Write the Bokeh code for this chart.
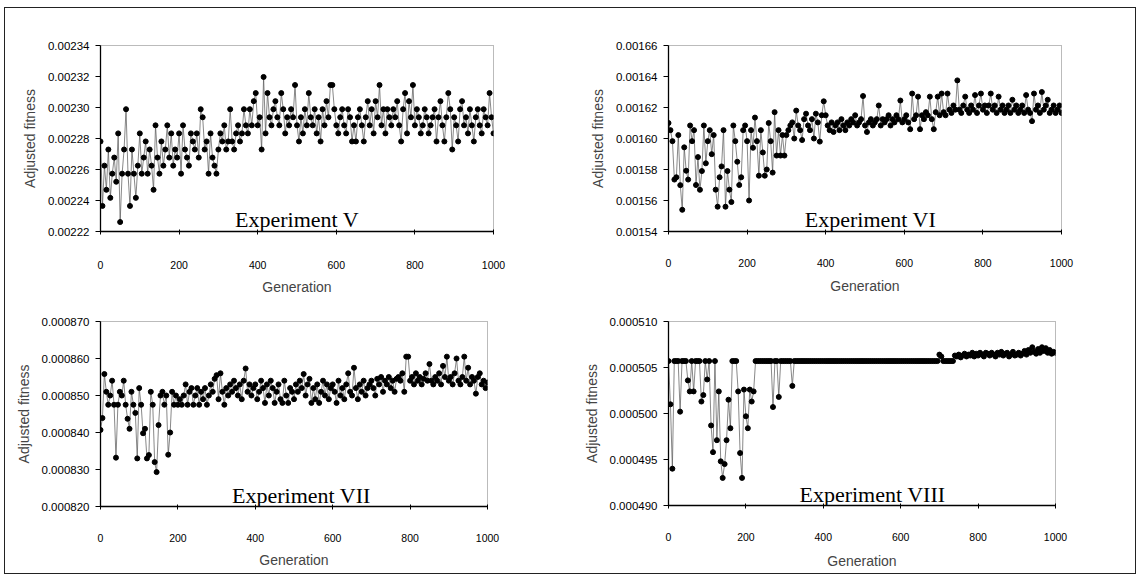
from bokeh.plotting import figure
from bokeh.layouts import column, row
from bokeh.models import FixedTicker, PrintfTickFormatter, Label, Range1d, ColumnDataSource
from bokeh.embed import file_html
from bokeh.resources import INLINE

# ---------------- data ----------------
generation = list(range(0, 1001, 5))

fitness_v = [
    0.0022781, 0.0022365, 0.0022625, 0.0022469, 0.0022729, 0.0022417, 0.0022573, 0.0022677, 0.0022521, 0.0022833,
    0.0022261, 0.0022573, 0.0022729, 0.0022989, 0.0022573, 0.0022365, 0.0022729, 0.0022573, 0.0022417, 0.0022625,
    0.0022833, 0.0022573, 0.0022677, 0.0022781, 0.0022573, 0.0022729, 0.0022625, 0.0022469, 0.0022885, 0.0022677,
    0.0022573, 0.0022781, 0.0022625, 0.0022729, 0.0022885, 0.0022677, 0.0022833, 0.0022625, 0.0022729, 0.0022677,
    0.0022833, 0.0022573, 0.0022885, 0.0022729, 0.0022677, 0.0022625, 0.0022833, 0.0022781, 0.0022729, 0.0022833,
    0.0022677, 0.0022989, 0.0022937, 0.0022729, 0.0022781, 0.0022573, 0.0022833, 0.0022677, 0.0022625, 0.0022573,
    0.0022729, 0.0022833, 0.0022781, 0.0022885, 0.0022729, 0.0022781, 0.0022989, 0.0022781, 0.0022729, 0.0022833,
    0.0022885, 0.0022781, 0.0022833, 0.0022989, 0.0022885, 0.0022833, 0.0022989, 0.0022885, 0.0023041, 0.0023093,
    0.0022885, 0.0022937, 0.0022729, 0.0023197, 0.0022833, 0.0023093, 0.0022937, 0.0022885, 0.0022989, 0.0023041,
    0.0022937, 0.0022885, 0.0023093, 0.0022989, 0.0022833, 0.0022937, 0.0022885, 0.0022989, 0.0022937, 0.0023145,
    0.0022885, 0.0022781, 0.0022937, 0.0022833, 0.0022989, 0.0022885, 0.0023093, 0.0022937, 0.0022885, 0.0022989,
    0.0022833, 0.0022937, 0.0022781, 0.0022989, 0.0022885, 0.0023041, 0.0022937, 0.0023145, 0.0023145, 0.0022989,
    0.0022885, 0.0022833, 0.0022937, 0.0022989, 0.0022885, 0.0022833, 0.0022989, 0.0022937, 0.0022781, 0.0022885,
    0.0022781, 0.0022937, 0.0022989, 0.0022885, 0.0022781, 0.0022937, 0.0023041, 0.0022885, 0.0022989, 0.0022833,
    0.0023041, 0.0022937, 0.0023145, 0.0022885, 0.0022989, 0.0022833, 0.0022989, 0.0022937, 0.0022885, 0.0022989,
    0.0022937, 0.0023041, 0.0022885, 0.0022781, 0.0022989, 0.0023093, 0.0022833, 0.0023041, 0.0022937, 0.0023145,
    0.0022885, 0.0022989, 0.0022937, 0.0022833, 0.0022885, 0.0022989, 0.0022937, 0.0022833, 0.0022885, 0.0022937,
    0.0022989, 0.0022781, 0.0022937, 0.0023041, 0.0022885, 0.0022781, 0.0022937, 0.0023093, 0.0022989, 0.0022729,
    0.0022937, 0.0022885, 0.0022781, 0.0022989, 0.0023041, 0.0022885, 0.0022937, 0.0022833, 0.0022989, 0.0022885,
    0.0022781, 0.0022937, 0.0022989, 0.0022885, 0.0022833, 0.0022989, 0.0022937, 0.0022885, 0.0023093, 0.0022937,
    0.0022833,
]

fitness_vi = [
    0.0016100, 0.0016054, 0.0015983, 0.0015735, 0.0015750, 0.0016022, 0.0015699, 0.0015540, 0.0015943, 0.0015792,
    0.0015735, 0.0016084, 0.0015983, 0.0016054, 0.0015700, 0.0015880, 0.0015669, 0.0015790, 0.0016084, 0.0015840,
    0.0015983, 0.0016054, 0.0015899, 0.0016022, 0.0015670, 0.0015560, 0.0015750, 0.0015820, 0.0016054, 0.0015560,
    0.0015790, 0.0015670, 0.0015590, 0.0016084, 0.0015983, 0.0015850, 0.0015700, 0.0015750, 0.0016054, 0.0016084,
    0.0015983, 0.0015600, 0.0016054, 0.0015940, 0.0016135, 0.0015983, 0.0015760, 0.0016054, 0.0015910, 0.0015760,
    0.0015800, 0.0016100, 0.0015983, 0.0015780, 0.0016170, 0.0015890, 0.0016054, 0.0015890, 0.0016022, 0.0015890,
    0.0016022, 0.0016054, 0.0016084, 0.0016104, 0.0016000, 0.0016180, 0.0016084, 0.0016054, 0.0015990, 0.0016125,
    0.0016160, 0.0016084, 0.0016054, 0.0016125, 0.0016000, 0.0016160, 0.0016104, 0.0015980, 0.0016150, 0.0016240,
    0.0016150, 0.0016084, 0.0016054, 0.0016104, 0.0016042, 0.0016084, 0.0016104, 0.0016054, 0.0016125, 0.0016084,
    0.0016054, 0.0016104, 0.0016084, 0.0016125, 0.0016104, 0.0016150, 0.0016084, 0.0016104, 0.0016125, 0.0016274,
    0.0016084, 0.0016042, 0.0016104, 0.0016125, 0.0016084, 0.0016104, 0.0016125, 0.0016213, 0.0016084, 0.0016125,
    0.0016104, 0.0016125, 0.0016150, 0.0016084, 0.0016125, 0.0016104, 0.0016150, 0.0016125, 0.0016245, 0.0016104,
    0.0016125, 0.0016150, 0.0016104, 0.0016060, 0.0016290, 0.0016125, 0.0016150, 0.0016270, 0.0016060, 0.0016150,
    0.0016125, 0.0016170, 0.0016150, 0.0016270, 0.0016125, 0.0016060, 0.0016170, 0.0016270, 0.0016150, 0.0016290,
    0.0016170, 0.0016150, 0.0016290, 0.0016186, 0.0016165, 0.0016213, 0.0016186, 0.0016375, 0.0016186, 0.0016165,
    0.0016213, 0.0016270, 0.0016186, 0.0016165, 0.0016213, 0.0016186, 0.0016280, 0.0016165, 0.0016213, 0.0016290,
    0.0016186, 0.0016213, 0.0016165, 0.0016213, 0.0016290, 0.0016186, 0.0016213, 0.0016165, 0.0016270, 0.0016186,
    0.0016213, 0.0016165, 0.0016186, 0.0016213, 0.0016165, 0.0016250, 0.0016186, 0.0016213, 0.0016165, 0.0016186,
    0.0016213, 0.0016165, 0.0016280, 0.0016186, 0.0016165, 0.0016112, 0.0016290, 0.0016186, 0.0016213, 0.0016165,
    0.0016300, 0.0016186, 0.0016213, 0.0016250, 0.0016165, 0.0016186, 0.0016213, 0.0016165, 0.0016186, 0.0016213,
    0.0016165,
]

fitness_vii = [
    0.0008407, 0.0008439, 0.0008558, 0.0008510, 0.0008475, 0.0008500, 0.0008540, 0.0008475, 0.0008332, 0.0008475,
    0.0008510, 0.0008500, 0.0008540, 0.0008475, 0.0008437, 0.0008410, 0.0008510, 0.0008475, 0.0008453, 0.0008330,
    0.0008520, 0.0008475, 0.0008398, 0.0008410, 0.0008330, 0.0008339, 0.0008510, 0.0008475, 0.0008320, 0.0008293,
    0.0008420, 0.0008500, 0.0008510, 0.0008475, 0.0008500, 0.0008340, 0.0008400, 0.0008510, 0.0008475, 0.0008500,
    0.0008475, 0.0008490, 0.0008475, 0.0008500, 0.0008530, 0.0008475, 0.0008510, 0.0008520, 0.0008475, 0.0008500,
    0.0008520, 0.0008475, 0.0008510, 0.0008490, 0.0008520, 0.0008475, 0.0008500, 0.0008530, 0.0008510, 0.0008545,
    0.0008555, 0.0008490, 0.0008560, 0.0008510, 0.0008475, 0.0008520, 0.0008500, 0.0008530, 0.0008510, 0.0008540,
    0.0008520, 0.0008500, 0.0008530, 0.0008490, 0.0008540, 0.0008573, 0.0008510, 0.0008530, 0.0008500, 0.0008520,
    0.0008530, 0.0008490, 0.0008510, 0.0008540, 0.0008520, 0.0008480, 0.0008530, 0.0008500, 0.0008540, 0.0008520,
    0.0008480, 0.0008510, 0.0008530, 0.0008490, 0.0008480, 0.0008540, 0.0008500, 0.0008480, 0.0008520, 0.0008510,
    0.0008490, 0.0008530, 0.0008510, 0.0008540, 0.0008520, 0.0008558, 0.0008500, 0.0008530, 0.0008545, 0.0008480,
    0.0008520, 0.0008490, 0.0008530, 0.0008480, 0.0008510, 0.0008540, 0.0008500, 0.0008530, 0.0008490, 0.0008520,
    0.0008530, 0.0008510, 0.0008480, 0.0008540, 0.0008500, 0.0008520, 0.0008490, 0.0008530, 0.0008560, 0.0008510,
    0.0008500, 0.0008575, 0.0008520, 0.0008490, 0.0008530, 0.0008510, 0.0008540, 0.0008500, 0.0008520, 0.0008530,
    0.0008540, 0.0008520, 0.0008500, 0.0008545, 0.0008530, 0.0008550, 0.0008510, 0.0008540, 0.0008530, 0.0008550,
    0.0008520, 0.0008540, 0.0008510, 0.0008545, 0.0008550, 0.0008540, 0.0008560, 0.0008510, 0.0008605, 0.0008605,
    0.0008540, 0.0008550, 0.0008530, 0.0008560, 0.0008540, 0.0008550, 0.0008530, 0.0008545, 0.0008560, 0.0008540,
    0.0008585, 0.0008540, 0.0008530, 0.0008550, 0.0008540, 0.0008560, 0.0008530, 0.0008580, 0.0008550, 0.0008605,
    0.0008540, 0.0008550, 0.0008530, 0.0008560, 0.0008600, 0.0008540, 0.0008530, 0.0008550, 0.0008605, 0.0008540,
    0.0008575, 0.0008530, 0.0008550, 0.0008540, 0.0008505, 0.0008550, 0.0008560, 0.0008530, 0.0008540, 0.0008520,
    0.0008535,
]

fitness_viii = [
    0.0005057, 0.0005010, 0.0004940, 0.0005057, 0.0005057, 0.0005057, 0.0005002, 0.0005057, 0.0005057, 0.0005057,
    0.0005036, 0.0005024, 0.0005057, 0.0005024, 0.0005057, 0.0005057, 0.0005057, 0.0005013, 0.0005020, 0.0005057,
    0.0005037, 0.0005057, 0.0004987, 0.0004958, 0.0005057, 0.0004971, 0.0005024, 0.0004948, 0.0004930, 0.0004945,
    0.0004971, 0.0005015, 0.0004984, 0.0005057, 0.0005057, 0.0005057, 0.0005024, 0.0004957, 0.0004930, 0.0005026,
    0.0004997, 0.0004984, 0.0005026, 0.0005013, 0.0005024, 0.0005057, 0.0005057, 0.0005057, 0.0005057, 0.0005057,
    0.0005057, 0.0005057, 0.0005057, 0.0005057, 0.0005007, 0.0005057, 0.0005057, 0.0005018, 0.0005057, 0.0005057,
    0.0005057, 0.0005057, 0.0005057, 0.0005057, 0.0005030, 0.0005057, 0.0005057, 0.0005057, 0.0005057, 0.0005057,
    0.0005057, 0.0005057, 0.0005057, 0.0005057, 0.0005057, 0.0005057, 0.0005057, 0.0005057, 0.0005057, 0.0005057,
    0.0005057, 0.0005057, 0.0005057, 0.0005057, 0.0005057, 0.0005057, 0.0005057, 0.0005057, 0.0005057, 0.0005057,
    0.0005057, 0.0005057, 0.0005057, 0.0005057, 0.0005057, 0.0005057, 0.0005057, 0.0005057, 0.0005057, 0.0005057,
    0.0005057, 0.0005057, 0.0005057, 0.0005057, 0.0005057, 0.0005057, 0.0005057, 0.0005057, 0.0005057, 0.0005057,
    0.0005057, 0.0005057, 0.0005057, 0.0005057, 0.0005057, 0.0005057, 0.0005057, 0.0005057, 0.0005057, 0.0005057,
    0.0005057, 0.0005057, 0.0005057, 0.0005057, 0.0005057, 0.0005057, 0.0005057, 0.0005057, 0.0005057, 0.0005057,
    0.0005057, 0.0005057, 0.0005057, 0.0005057, 0.0005057, 0.0005057, 0.0005057, 0.0005057, 0.0005057, 0.0005057,
    0.0005064, 0.0005062, 0.0005057, 0.0005057, 0.0005057, 0.0005057, 0.0005057, 0.0005057, 0.0005063, 0.0005062,
    0.0005064, 0.0005061, 0.0005063, 0.0005065, 0.0005062, 0.0005064, 0.0005063, 0.0005066, 0.0005062, 0.0005065,
    0.0005063, 0.0005066, 0.0005064, 0.0005062, 0.0005066, 0.0005065, 0.0005063, 0.0005066, 0.0005064, 0.0005062,
    0.0005066, 0.0005064, 0.0005067, 0.0005063, 0.0005065, 0.0005066, 0.0005062, 0.0005064, 0.0005067, 0.0005063,
    0.0005064, 0.0005066, 0.0005063, 0.0005065, 0.0005068, 0.0005064, 0.0005069, 0.0005066, 0.0005072, 0.0005067,
    0.0005065, 0.0005070, 0.0005066, 0.0005072, 0.0005068, 0.0005071, 0.0005066, 0.0005069, 0.0005065, 0.0005067,
    0.0005066,
]

x_ticks = [0, 200, 400, 600, 800, 1000]
y_ticks_v = [0.00222, 0.00224, 0.00226, 0.00228, 0.00230, 0.00232, 0.00234]
y_ticks_vi = [0.00154, 0.00156, 0.00158, 0.00160, 0.00162, 0.00164, 0.00166]
y_ticks_vii = [0.000820, 0.000830, 0.000840, 0.000850, 0.000860, 0.000870]
y_ticks_viii = [0.000490, 0.000495, 0.000500, 0.000505, 0.000510]

titles = ["Experiment V", "Experiment VI", "Experiment VII", "Experiment VIII"]
title_x = [500, 514, 519, 527]

for arr in (fitness_v, fitness_vi, fitness_vii, fitness_viii):
    assert len(arr) == len(generation), len(arr)

SANS = "Liberation Sans"
SERIF = "Liberation Serif"


def make_panel(fit, yticks, fmt, title, tx, fw, fh, bl, br, bt, bb, xstand, xlabstand):
    p = figure(frame_width=fw, frame_height=fh, output_backend="svg", toolbar_location=None,
               x_range=Range1d(0, 1000), y_range=Range1d(yticks[0], yticks[-1]),
               min_border_left=bl, min_border_right=br, min_border_top=bt, min_border_bottom=bb)
    p.background_fill_color = "white"
    p.border_fill_color = "white"
    p.outline_line_color = "#777777"
    p.outline_line_dash = "1 1"
    p.outline_line_width = 1
    p.xgrid.visible = False
    p.ygrid.visible = False

    src = ColumnDataSource(dict(x=generation, y=fit))
    p.line("x", "y", source=src, line_color="#555555", line_width=0.7)
    p.scatter("x", "y", source=src, size=5, fill_color="black", line_color="black")

    xa = p.xaxis[0]
    xa.ticker = FixedTicker(ticks=x_ticks)
    xa.axis_line_color = "black"
    xa.axis_line_width = 1.3
    xa.major_tick_out = 3
    xa.major_tick_in = 2
    xa.minor_tick_out = 0
    xa.minor_tick_in = 0
    xa.major_label_standoff = xstand
    xa.major_label_text_font = SANS
    xa.major_label_text_font_size = "10.5px"
    xa.major_label_text_color = "black"
    xa.axis_label = "Generation"
    xa.axis_label_text_font = SANS
    xa.axis_label_text_font_style = "normal"
    xa.axis_label_text_font_size = "14px"
    xa.axis_label_standoff = xlabstand

    ya = p.yaxis[0]
    ya.ticker = FixedTicker(ticks=yticks)
    ya.formatter = PrintfTickFormatter(format=fmt)
    ya.axis_line_color = "black"
    ya.axis_line_width = 1.3
    ya.major_tick_out = 5
    ya.major_tick_in = 0
    ya.minor_tick_out = 0
    ya.minor_tick_in = 0
    ya.major_label_standoff = 6
    ya.major_label_text_font = SANS
    ya.major_label_text_font_size = "11.5px"
    ya.major_label_text_color = "black"
    ya.axis_label = "Adjusted fitness"
    ya.axis_label_text_font = SANS
    ya.axis_label_text_font_style = "normal"
    ya.axis_label_text_font_size = "14px"
    ya.axis_label_standoff = 7

    ty = yticks[0] + 0.062 * (yticks[-1] - yticks[0])
    p.add_layout(Label(x=tx, y=ty, text=title, text_font=SERIF, text_font_size="22px",
                       text_align="center", text_baseline="alphabetic", text_color="black"))
    return p


p1 = make_panel(fitness_v, y_ticks_v, "%.5f", titles[0], title_x[0], 393, 186, 95, 75, 37, 67, 26, 7)
p2 = make_panel(fitness_vi, y_ticks_vi, "%.5f", titles[1], title_x[1], 393, 186, 100, 74, 34, 70, 24, 8)
p3 = make_panel(fitness_vii, y_ticks_vii, "%.6f", titles[2], title_x[2], 387, 185, 95, 81, 23, 67, 24, 7)
p4 = make_panel(fitness_viii, y_ticks_viii, "%.6f", titles[3], title_x[3], 387, 184, 100, 80, 22, 69, 24, 9)

layout = column(row(p1, p2), row(p3, p4),
                styles={"border": "1px solid #222222", "margin-top": "7px", "margin-left": "4px"})

with open("out.html", "w") as f:
    f.write(file_html(layout, INLINE))
